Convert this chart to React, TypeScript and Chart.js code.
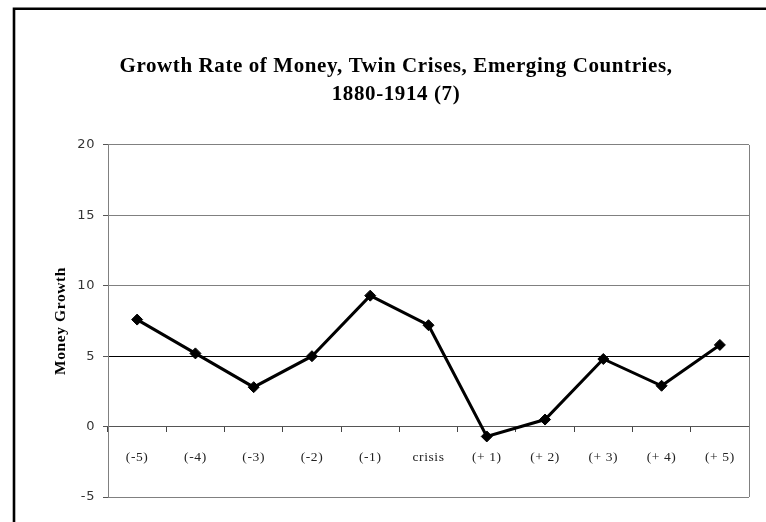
import React, { useEffect, useRef } from 'react';
import { Chart, registerables } from 'chart.js';

Chart.register(...registerables);

const categories = ['(-5)', '(-4)', '(-3)', '(-2)', '(-1)', 'crisis', '(+ 1)', '(+ 2)', '(+ 3)', '(+ 4)', '(+ 5)'];
const moneyGrowth = [7.6, 5.2, 2.8, 5.0, 9.3, 7.2, -0.7, 0.5, 4.8, 2.9, 5.8];
const titleLines = ['Growth Rate of Money, Twin Crises, Emerging Countries,', '1880-1914 (7)'];
const yAxisTitle = 'Money Growth';
const yMin = -5;
const yMax = 20;
const yStep = 5;

const framePlugin = {
  id: 'frame',
  beforeDraw(chart: any) {
    chart.ctx.letterSpacing = '0.6px';
  },
  beforeDatasetsDraw(chart: any) {
    const { ctx, chartArea } = chart;
    ctx.save();
    ctx.strokeStyle = '#808080';
    ctx.lineWidth = 1;
    ctx.beginPath();
    ctx.moveTo(Math.round(chartArea.right) + 0.5, chartArea.top);
    ctx.lineTo(Math.round(chartArea.right) + 0.5, chartArea.bottom);
    ctx.stroke();
    ctx.restore();
  },
  afterDraw(chart: any) {
    const { ctx, width, height } = chart;
    ctx.save();
    ctx.strokeStyle = '#000';
    ctx.lineWidth = 2.6;
    ctx.beginPath();
    ctx.moveTo(14, height + 2);
    ctx.lineTo(14, 8.7);
    ctx.lineTo(width + 2, 8.7);
    ctx.stroke();
    ctx.restore();
    ctx.letterSpacing = '0px';
  },
};

export default function App() {
  const ref = useRef<HTMLCanvasElement | null>(null);

  useEffect(() => {
    document.body.style.margin = '0';
    const canvas = ref.current;
    if (!canvas) return;
    const chart = new Chart(canvas, {
      type: 'line',
      data: {
        labels: categories,
        datasets: [
          {
            label: yAxisTitle,
            data: moneyGrowth,
            borderColor: '#000',
            backgroundColor: '#000',
            borderWidth: 3,
            pointStyle: 'rectRot',
            pointRadius: 5.5,
            pointBackgroundColor: '#000',
            pointBorderColor: '#000',
            pointBorderWidth: 1,
            tension: 0,
            fill: false,
          },
        ],
      },
      options: {
        responsive: false,
        animation: false,
        devicePixelRatio: 1,
        layout: { padding: { left: 43, right: 17, top: 0, bottom: 25 } },
        plugins: {
          legend: { display: false },
          tooltip: { enabled: false },
          title: {
            display: true,
            text: titleLines,
            color: '#000',
            font: { family: '"Liberation Serif", serif', size: 21, weight: 'bold', lineHeight: 1.333 },
            padding: { top: 53, bottom: 36 },
          },
        },
        scales: {
          x: {
            type: 'category',
            position: { y: 0 } as any,
            offset: true,
            afterFit: (scale: any) => {
              scale.height = 0;
            },
            grid: {
              offset: true,
              drawOnChartArea: false,
              drawTicks: true,
              tickLength: 5,
              tickColor: '#444',
              tickWidth: 1,
            },
            border: { display: true, color: '#555', width: 1 },
            ticks: {
              color: '#222',
              padding: 18,
              maxRotation: 0,
              autoSkip: false,
              font: { family: '"Liberation Serif", serif', size: 13.5 },
            },
          },
          y: {
            type: 'linear',
            min: yMin,
            max: yMax,
            afterFit: (scale: any) => {
              scale.width = 65;
            },
            ticks: {
              stepSize: yStep,
              color: '#333',
              padding: 8,
              font: { family: '"DejaVu Sans", sans-serif', size: 13 },
            },
            grid: {
              color: (c: any) => (c.tick && c.tick.value === 5 ? '#000' : c.tick && c.tick.value === 0 ? '#555' : '#808080'),
              tickColor: '#555',
              tickLength: 5,
              lineWidth: 1,
            },
            border: { display: true, color: '#808080', width: 1 },
            title: {
              display: true,
              text: yAxisTitle,
              color: '#000',
              font: { family: '"Liberation Serif", serif', size: 15.5, weight: 'bold' },
              padding: { top: 9, bottom: 0 },
            },
          },
        },
      },
      plugins: [framePlugin],
    });
    return () => chart.destroy();
  }, []);

  return (
    <div style={{ position: 'fixed', left: 0, top: 0, width: 766, height: 522, background: '#fff' }}>
      <canvas ref={ref} width={766} height={522} style={{ display: 'block', width: 766, height: 522 }} />
    </div>
  );
}
